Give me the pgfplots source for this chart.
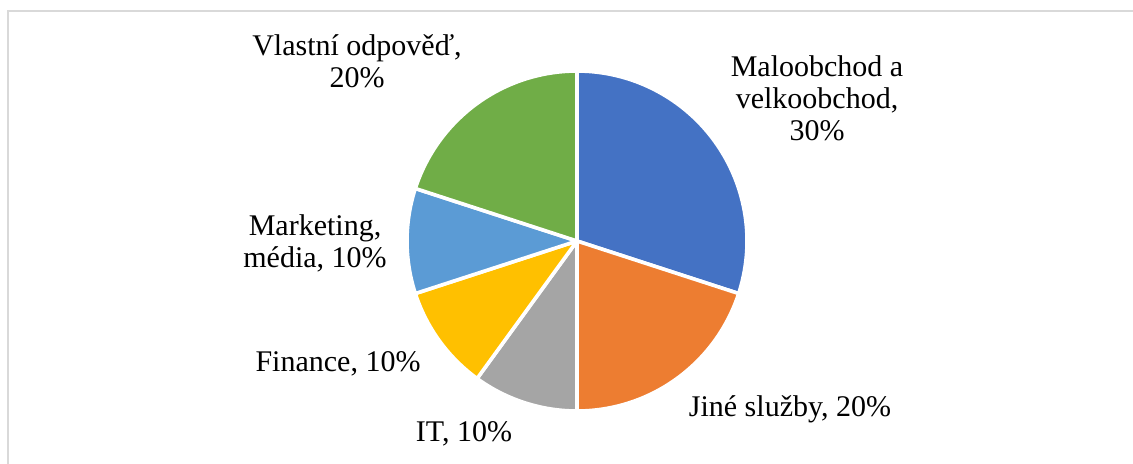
\documentclass[border=0pt]{standalone}
\usepackage{pgfplots}
\usepackage{pgfplotstable}
\pgfplotsset{compat=1.18}
\usepackage{fontspec}
\setmainfont{Liberation Serif}

\definecolor{pieA}{HTML}{4472C4}
\definecolor{pieB}{HTML}{ED7D31}
\definecolor{pieC}{HTML}{A5A5A5}
\definecolor{pieD}{HTML}{FFC000}
\definecolor{pieE}{HTML}{5B9BD5}
\definecolor{pieF}{HTML}{70AD47}
\definecolor{framegray}{HTML}{D9D9D9}

% share in percent, clockwise from 12 o'clock
\pgfplotstableread{
share colour
30 pieA
20 pieB
10 pieC
10 pieD
10 pieE
20 pieF
}\piedata

\begin{document}
\begin{tikzpicture}
\begin{axis}[x=0.5pt, y=0.5pt, xmin=0, xmax=1133, ymin=0, ymax=463,
  hide axis, clip=false]
% outer frame (runs off the right and bottom edges)
\draw[framegray, line width=0.9pt] (axis cs:8,-30) -- (axis cs:8,452) -- (axis cs:1160,452);
% slices
\pgfplotstablegetrowsof{\piedata}\pgfmathtruncatemacro\lastrow{\pgfplotsretval-1}
\xdef\cum{0}
\foreach \i in {0,...,\lastrow}{
  \pgfplotstablegetelem{\i}{share}\of\piedata \let\sh\pgfplotsretval
  \pgfplotstablegetelem{\i}{colour}\of\piedata \let\co\pgfplotsretval
  \pgfmathsetmacro\a{90-3.6*\cum}
  \pgfmathsetmacro\b{\a-3.6*\sh}
  \edef\slice{\noexpand\filldraw[fill=\co, draw=white, line width=1.8pt, line join=round]
    (axis cs:577,222) -- ++(\a:85pt) arc[start angle=\a, end angle=\b, radius=85pt] -- cycle;}
  \slice
  \pgfmathsetmacro\c{\cum+\sh}\xdef\cum{\c}
}
% data labels
\begin{scope}[every node/.style={align=center, font=\fontsize{15}{16}\selectfont}]
\node at (axis cs:817,365) {Maloobchod a\\velkoobchod,\\30\%};
\node at (axis cs:790,54) {Jiné služby, 20\%};
\node at (axis cs:464,29) {IT, 10\%};
\node at (axis cs:338,99) {Finance, 10\%};
\node at (axis cs:315,220) {Marketing,\\média, 10\%};
\node at (axis cs:357,402) {Vlastní odpověď,\\20\%};
\end{scope}
\end{axis}
\pgfresetboundingbox
\useasboundingbox (0,0) rectangle (566.5pt,231.5pt);
\end{tikzpicture}
\end{document}
